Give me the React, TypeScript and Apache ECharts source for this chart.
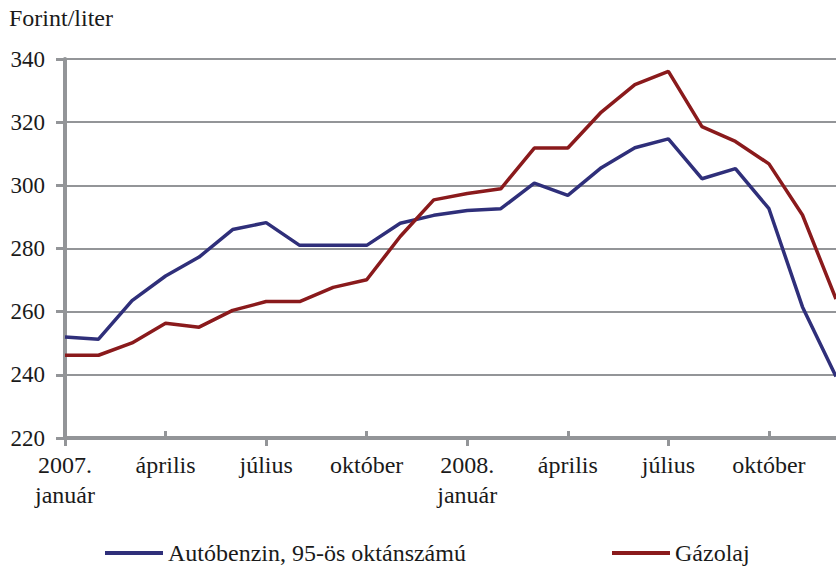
import React, { useEffect, useRef } from "react";
import * as echarts from "echarts";

const months = [
  "2007-01", "2007-02", "2007-03", "2007-04", "2007-05", "2007-06",
  "2007-07", "2007-08", "2007-09", "2007-10", "2007-11", "2007-12",
  "2008-01", "2008-02", "2008-03", "2008-04", "2008-05", "2008-06",
  "2008-07", "2008-08", "2008-09", "2008-10", "2008-11", "2008-12",
];
const tickLabels: Record<string, string> = {
  "2007-01": "2007.\njanuár",
  "2007-04": "április",
  "2007-07": "július",
  "2007-10": "október",
  "2008-01": "2008.\njanuár",
  "2008-04": "április",
  "2008-07": "július",
  "2008-10": "október",
};
const benzin = [252, 251.3, 263.5, 271.3, 277.3, 286, 288.2, 281, 281, 281, 288, 290.5,
  292, 292.6, 300.7, 296.8, 305.6, 311.9, 314.7, 302.1, 305.3, 292.6, 261.5, 239.5];
const gazolaj = [246.2, 246.2, 250.1, 256.3, 255.1, 260.4, 263.2, 263.2, 267.7, 270.1, 283.8, 295.4,
  297.4, 298.9, 311.8, 311.8, 323.2, 331.9, 336.1, 318.6, 313.9, 306.8, 290.6, 264];
const seriesNames = ["Autóbenzin, 95-ös oktánszámú", "Gázolaj"];
const yTicks = { min: 220, max: 340, interval: 20 };

const FONT = "'Liberation Serif', 'DejaVu Serif', serif";
const AXIS = "#939598";
const TXT = "#1a1a1a";

export default function App() {
  const ref = useRef<HTMLDivElement>(null);
  useEffect(() => {
    if (!ref.current) return;
    const chart = echarts.init(ref.current, null, { renderer: "svg" });
    chart.setOption({
      animation: false,
      backgroundColor: "#ffffff",
      textStyle: { fontFamily: FONT },
      title: {
        text: "Forint/liter",
        left: 9,
        top: 6,
        padding: 0,
        textStyle: { fontFamily: FONT, fontSize: 24, fontWeight: "normal", color: TXT },
      },
      grid: { left: 65, right: -4, top: 59, bottom: 131, containLabel: false },
      legend: [
        {
          data: [seriesNames[0]],
          left: 105,
          top: 541,
          padding: 0,
          itemWidth: 58,
          itemHeight: 4,
          itemGap: 0,
          icon: "rect",
          textStyle: { fontFamily: FONT, fontSize: 24, color: TXT },
        },
        {
          data: [seriesNames[1]],
          left: 612,
          top: 541,
          padding: 0,
          itemWidth: 58,
          itemHeight: 4,
          itemGap: 0,
          icon: "rect",
          textStyle: { fontFamily: FONT, fontSize: 24, color: TXT },
        },
      ],
      xAxis: [
        {
          type: "category",
          data: months,
          boundaryGap: false,
          axisLine: { show: true, lineStyle: { color: AXIS, width: 4 } },
          axisTick: {
            show: true,
            inside: false,
            length: 8,
            interval: (i: number) => i % 6 === 0,
            lineStyle: { color: AXIS, width: 3 },
          },
          axisLabel: {
            show: true,
            interval: (i: number) => i % 3 === 0,
            formatter: (v: string) => tickLabels[v] || "",
            fontFamily: FONT,
            fontSize: 24,
            color: TXT,
            lineHeight: 30,
            margin: 12,
          },
          splitLine: { show: false },
        },
        {
          type: "category",
          data: months,
          boundaryGap: false,
          position: "bottom",
          axisLine: { show: false },
          axisTick: {
            show: true,
            inside: true,
            length: 7,
            interval: (i: number) => i % 6 === 3,
            lineStyle: { color: AXIS, width: 3 },
          },
          axisLabel: { show: false },
          splitLine: { show: false },
        },
      ],
      yAxis: {
        type: "value",
        min: yTicks.min,
        max: yTicks.max,
        interval: yTicks.interval,
        axisLine: { show: true, lineStyle: { color: AXIS, width: 4 } },
        axisTick: { show: true, inside: false, length: 9, lineStyle: { color: AXIS, width: 3 } },
        axisLabel: { fontFamily: FONT, fontSize: 23, color: TXT, margin: 20 },
        splitLine: { show: true, lineStyle: { color: AXIS, width: 2 } },
      },
      series: [
        {
          name: seriesNames[0],
          type: "line",
          data: benzin,
          xAxisIndex: 0,
          showSymbol: false,
          symbol: "none",
          color: "#2f2f7a",
          lineStyle: { color: "#2f2f7a", width: 3.5 },
          z: 3,
        },
        {
          name: seriesNames[1],
          type: "line",
          data: gazolaj,
          xAxisIndex: 0,
          showSymbol: false,
          symbol: "none",
          color: "#8a1a1c",
          lineStyle: { color: "#8a1a1c", width: 3.5 },
          z: 4,
        },
      ],
    });
    return () => chart.dispose();
  }, []);
  return (
    <div
      ref={ref}
      style={{ position: "absolute", left: 0, top: 0, width: 836, height: 569 }}
    />
  );
}
